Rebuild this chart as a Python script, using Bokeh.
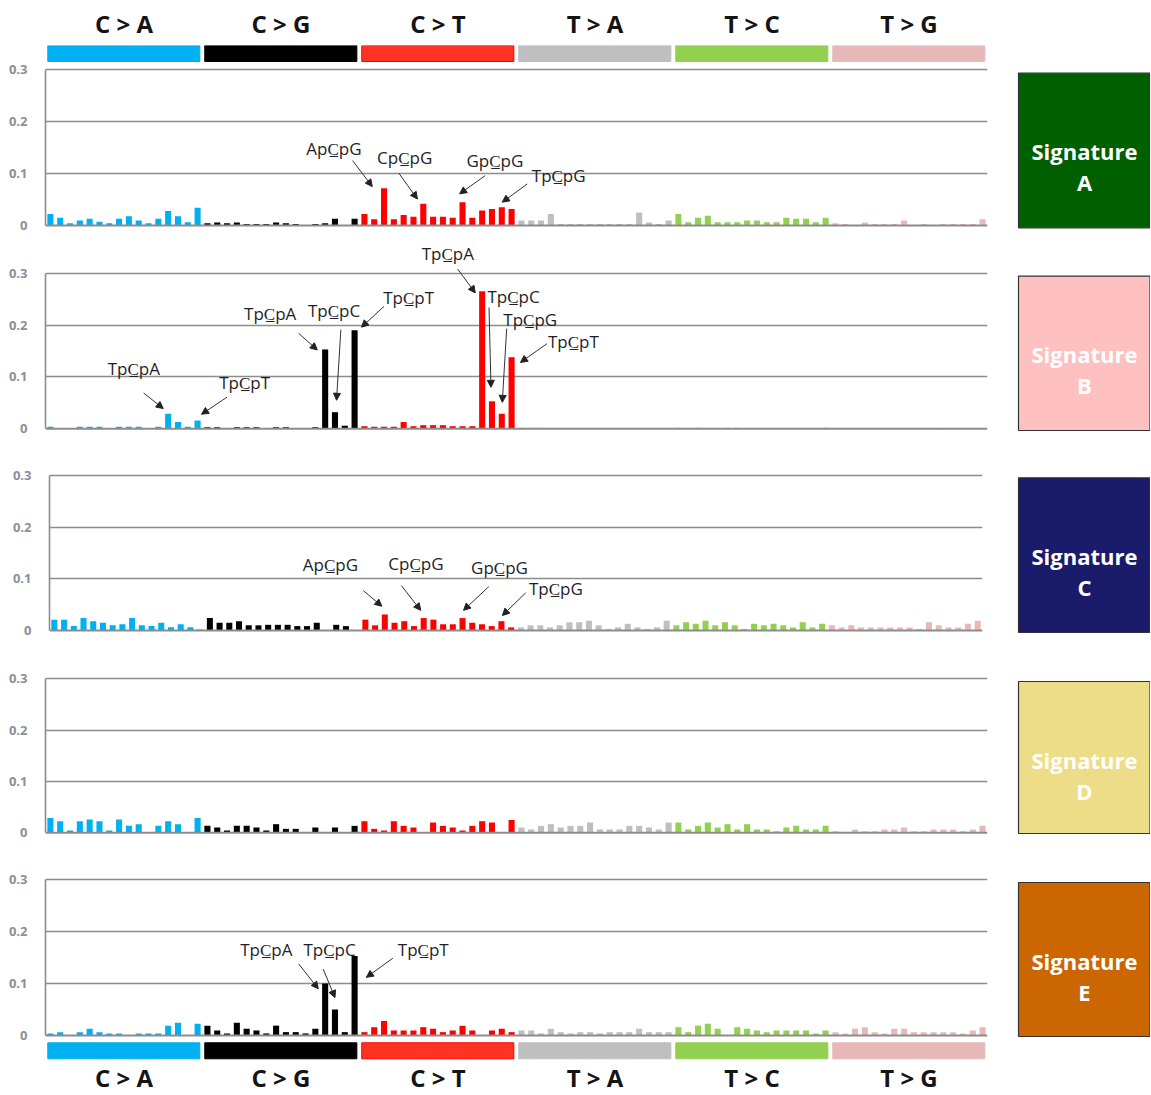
from bokeh.plotting import figure
from bokeh.layouts import column, row
from bokeh.models import Range1d, FixedTicker, Span, Arrow, NormalHead, ColumnDataSource
from bokeh.core.properties import value
from bokeh.embed import file_html
from bokeh.resources import INLINE

# ---------------- data ----------------
SUBS = ["C > A", "C > G", "C > T", "T > A", "T > C", "T > G"]
BAR_COLORS = ["#00B0F0", "#000000", "#FF0000", "#BFBFBF", "#92D050", "#E6B9B8"]
HEAD_FILL = ["#00B0F0", "#000000", "#FF3322", "#BFBFBF", "#92D050", "#E6B9B8"]
HEAD_LINE = ["#00B0F0", "#000000", "#FF0000", "#BFBFBF", "#92D050", "#E6B9B8"]

SIG_A = [
    0.022, 0.015, 0.0045, 0.0096, 0.013, 0.007, 0.0045, 0.013, 0.018, 0.0096, 0.0045, 0.013, 0.028, 0.018, 0.0064, 0.034,
    0.0045, 0.006, 0.0045, 0.006, 0.003, 0.003, 0.003, 0.006, 0.0045, 0.003, 0.0, 0.003, 0.0045, 0.013, 0.0, 0.013,
    0.022, 0.012, 0.072, 0.012, 0.020, 0.017, 0.042, 0.017, 0.017, 0.015, 0.045, 0.015, 0.029, 0.032, 0.035, 0.032,
    0.0096, 0.0096, 0.0096, 0.022, 0.003, 0.003, 0.003, 0.003, 0.003, 0.003, 0.003, 0.003, 0.025, 0.006, 0.003, 0.0096,
    0.022, 0.0064, 0.015, 0.019, 0.0064, 0.0064, 0.0064, 0.0096, 0.0096, 0.0064, 0.0064, 0.015, 0.013, 0.013, 0.0064, 0.015,
    0.0045, 0.003, 0.0, 0.006, 0.003, 0.003, 0.003, 0.0096, 0.0, 0.003, 0.0, 0.003, 0.003, 0.003, 0.003, 0.012,
]
SIG_B = [
    0.004, 0.0, 0.0, 0.004, 0.004, 0.004, 0.0, 0.004, 0.004, 0.004, 0.0, 0.004, 0.029, 0.013, 0.004, 0.016,
    0.003, 0.003, 0.0, 0.003, 0.003, 0.003, 0.0, 0.003, 0.003, 0.0, 0.0, 0.003, 0.153, 0.032, 0.006, 0.19,
    0.005, 0.004, 0.004, 0.004, 0.013, 0.005, 0.007, 0.007, 0.007, 0.005, 0.005, 0.005, 0.265, 0.053, 0.029, 0.138,
    0.002, 0.002, 0.002, 0.0, 0.0, 0.0, 0.0, 0.0, 0.0, 0.0, 0.0, 0.0, 0.0, 0.0, 0.0, 0.0,
    0.002, 0.0, 0.002, 0.0, 0.0, 0.002, 0.002, 0.0, 0.0, 0.0, 0.0, 0.0, 0.0, 0.0, 0.0, 0.002,
    0.0, 0.0, 0.0, 0.0, 0.0, 0.0, 0.0, 0.0, 0.0, 0.0, 0.002, 0.0, 0.0, 0.0, 0.0, 0.0,
]
SIG_C = [
    0.021, 0.021, 0.0085, 0.024, 0.018, 0.015, 0.010, 0.012, 0.024, 0.010, 0.0085, 0.015, 0.0065, 0.012, 0.0065, 0.002,
    0.024, 0.015, 0.015, 0.018, 0.010, 0.010, 0.011, 0.011, 0.011, 0.0085, 0.0085, 0.015, 0.0, 0.011, 0.0085, 0.0,
    0.021, 0.010, 0.031, 0.015, 0.018, 0.0085, 0.024, 0.021, 0.012, 0.012, 0.024, 0.015, 0.012, 0.0085, 0.018, 0.006,
    0.006, 0.010, 0.010, 0.006, 0.010, 0.016, 0.016, 0.019, 0.010, 0.003, 0.006, 0.013, 0.006, 0.003, 0.006, 0.019,
    0.010, 0.016, 0.013, 0.019, 0.010, 0.016, 0.010, 0.003, 0.013, 0.010, 0.013, 0.010, 0.006, 0.016, 0.006, 0.013,
    0.010, 0.006, 0.010, 0.006, 0.006, 0.006, 0.006, 0.006, 0.006, 0.003, 0.016, 0.010, 0.006, 0.006, 0.013, 0.019,
]
SIG_D = [
    0.029, 0.0226, 0.0045, 0.0226, 0.026, 0.0226, 0.0045, 0.026, 0.0135, 0.0168, 0.0, 0.0135, 0.0226, 0.0168, 0.0, 0.029,
    0.0135, 0.0103, 0.0045, 0.0135, 0.0135, 0.0103, 0.0045, 0.0168, 0.0077, 0.0077, 0.0, 0.0103, 0.0, 0.0103, 0.0, 0.0135,
    0.0226, 0.0077, 0.0045, 0.0226, 0.0135, 0.0103, 0.0, 0.020, 0.0135, 0.0103, 0.0045, 0.0135, 0.0226, 0.020, 0.0, 0.025,
    0.0103, 0.0065, 0.0135, 0.0168, 0.0103, 0.0135, 0.0135, 0.020, 0.0065, 0.0065, 0.0065, 0.0135, 0.0135, 0.0103, 0.0065, 0.020,
    0.020, 0.0065, 0.0135, 0.020, 0.0103, 0.0168, 0.0065, 0.0168, 0.0065, 0.0065, 0.0032, 0.0103, 0.0135, 0.0065, 0.0065, 0.0135,
    0.003, 0.0, 0.0065, 0.003, 0.003, 0.0065, 0.0065, 0.0103, 0.003, 0.003, 0.0065, 0.0065, 0.0065, 0.003, 0.0065, 0.0135,
]
SIG_E = [
    0.004, 0.0065, 0.0, 0.0065, 0.013, 0.0065, 0.004, 0.004, 0.0, 0.004, 0.004, 0.004, 0.0187, 0.0245, 0.0, 0.0226,
    0.019, 0.0097, 0.004, 0.0245, 0.013, 0.0097, 0.004, 0.019, 0.0065, 0.0065, 0.004, 0.013, 0.100, 0.050, 0.0065, 0.153,
    0.0065, 0.016, 0.028, 0.0097, 0.0097, 0.0097, 0.016, 0.013, 0.0065, 0.0097, 0.0187, 0.0097, 0.0, 0.0097, 0.013, 0.0065,
    0.0097, 0.0097, 0.004, 0.013, 0.0065, 0.004, 0.0065, 0.0065, 0.004, 0.0065, 0.0065, 0.0065, 0.013, 0.0065, 0.0065, 0.0065,
    0.016, 0.0065, 0.019, 0.0226, 0.013, 0.0, 0.016, 0.013, 0.0097, 0.0065, 0.0097, 0.0097, 0.0097, 0.0097, 0.004, 0.0097,
    0.0065, 0.004, 0.013, 0.016, 0.0065, 0.004, 0.013, 0.013, 0.0065, 0.0065, 0.0065, 0.0065, 0.0065, 0.004, 0.0097, 0.016,
]
SIGNATURES = [SIG_A, SIG_B, SIG_C, SIG_D, SIG_E]
SIG_LETTERS = ["A", "B", "C", "D", "E"]
SIG_BOX_COLORS = ["#006000", "#FFC0C0", "#1B1B6B", "#EEDD88", "#CC6600"]
YTICKS = [0, 0.1, 0.2, 0.3]

# annotations: (5' base, 3' base, label x, label y, arrow x0, y0, x1, y1) in data units
ANN = [
    [("A", "G", 28.9, 0.148, 30.8, 0.125, 32.8, 0.075),
     ("C", "G", 36.1, 0.131, 35.5, 0.101, 37.4, 0.051),
     ("G", "G", 45.3, 0.125, 44.3, 0.096, 41.7, 0.061),
     ("T", "G", 51.8, 0.096, 48.6, 0.080, 46.05, 0.045)],
    [("T", "A", 8.5, 0.116, 9.5, 0.069, 11.5, 0.039),
     ("T", "T", 19.8, 0.089, 18.0, 0.061, 15.4, 0.028),
     ("T", "A", 22.4, 0.222, 25.3, 0.184, 27.2, 0.152),
     ("T", "C", 28.9, 0.228, 29.6, 0.191, 29.16, 0.055),
     ("T", "T", 36.5, 0.253, 34.0, 0.236, 31.7, 0.196),
     ("T", "A", 40.5, 0.338, 41.5, 0.308, 43.3, 0.262),
     ("T", "C", 47.2, 0.255, 44.7, 0.234, 44.9, 0.080),
     ("T", "G", 48.9, 0.211, 46.5, 0.193, 46.05, 0.051),
     ("T", "T", 53.3, 0.168, 50.6, 0.164, 47.9, 0.128)],
    [("A", "G", 28.4, 0.128, 31.8, 0.077, 33.7, 0.047),
     ("C", "G", 37.2, 0.130, 35.7, 0.087, 37.7, 0.039),
     ("G", "G", 45.8, 0.122, 44.7, 0.085, 42.1, 0.039),
     ("T", "G", 51.6, 0.081, 48.5, 0.073, 46.1, 0.029)],
    [],
    [("T", "A", 22.0, 0.166, 25.3, 0.138, 27.3, 0.090),
     ("T", "C", 28.45, 0.166, 27.8, 0.128, 29.0, 0.073),
     ("T", "T", 38.0, 0.166, 34.9, 0.149, 32.2, 0.112)],
]

# ---------------- layout constants (page pixels) ----------------
FONT = "Open Sans"
PANEL_W = 1000
BOX_W = 150
TOP_H = 45
BOT_H = 34
TOP_BAR = (45, 61)          # page y of the top category strip (drawn inside panel A)
BOT_BAR = (1042.3, 1058.3)  # page y of the bottom category strip (drawn inside panel E)
# (band top, band bottom, 0.3 line, 0 line, frame left, frame right, box top, box bottom)
BANDS = [
    (45, 237, 69.3, 225.0, 45.0, 986.7, 72.7, 227.3),
    (237, 440, 272.7, 428.3, 45.0, 986.7, 275.7, 430.0),
    (440, 642, 475.0, 630.0, 49.3, 981.7, 477.3, 632.0),
    (642, 844, 678.3, 832.3, 45.0, 986.7, 681.0, 833.0),
    (844, 1060, 879.3, 1035.0, 45.0, 986.7, 882.0, 1036.0),
]
GRID = "#8C8C8C"
XR = (-0.5, 95.5)


def ctx(l, r):
    return l + "pC\u0332p" + r


def strip_source():
    return ColumnDataSource(dict(
        left=[g * 16 - 0.27 for g in range(6)], right=[g * 16 + 15.23 for g in range(6)],
        fill=HEAD_FILL, line=HEAD_LINE, cx=[g * 16 + 7.5 for g in range(6)], lab=SUBS))


def bare(width, height, yr, mbl=0, mbr=0):
    f = figure(width=width, height=height, x_range=Range1d(*XR) if mbl else Range1d(0, width),
               y_range=Range1d(*yr), x_axis_type=None, y_axis_type=None,
               toolbar_location=None, output_backend="svg",
               min_border_left=mbl, min_border_right=mbr, min_border_top=0, min_border_bottom=0,
               outline_line_color=None)
    f.xgrid.visible = False
    f.ygrid.visible = False
    return f


def add_labels(fig, label_y):
    fig.text(x="cx", y=label_y, text="lab", source=strip_source(), text_font=value(FONT),
             text_font_size="24px", text_font_style="bold", text_color="#141414",
             text_align="center", text_baseline="middle")


def add_strip(fig, top, bottom):
    fig.quad(left="left", right="right", top=top, bottom=bottom, source=strip_source(),
             fill_color="fill", line_color="line", line_width=1)


def panel(i):
    T, B, t, b, fl, fr, bt, bb = BANDS[i]
    sig = SIGNATURES[i]
    mbl = round(fl)
    mbr = round(PANEL_W - fr)
    ppu = (b - t) / 0.3
    ymax = (b - T) / ppu
    ymin = -(B - b) / ppu
    p = figure(width=PANEL_W, height=B - T, x_range=Range1d(*XR), y_range=Range1d(ymin, ymax),
               x_axis_type=None, toolbar_location=None, output_backend="svg",
               min_border_left=mbl, min_border_right=mbr, min_border_top=0,
               min_border_bottom=0, outline_line_color=None)
    p.xgrid.visible = False
    p.ygrid.ticker = FixedTicker(ticks=[0.1, 0.2, 0.3])
    p.ygrid.grid_line_color = GRID
    p.ygrid.grid_line_width = 1.6
    ax = p.yaxis[0]
    ax.ticker = FixedTicker(ticks=YTICKS)
    ax.bounds = (0, 0.3)
    ax.major_label_overrides = {0: "0", 0.1: "0.1", 0.2: "0.2", 0.3: "0.3"}
    ax.axis_line_color = GRID
    ax.axis_line_width = 1.6
    ax.major_tick_line_color = None
    ax.minor_tick_line_color = None
    ax.major_label_standoff = 12
    ax.major_label_text_font = FONT
    ax.major_label_text_font_size = "13px"
    ax.major_label_text_font_style = "bold"
    ax.major_label_text_color = "#8A8F98"
    p.add_layout(Span(location=0, dimension="width", line_color=GRID, line_width=2))

    if i == 0:
        add_strip(p, (b - TOP_BAR[0]) / ppu, (b - TOP_BAR[1]) / ppu)
    if i == 4:
        add_strip(p, (b - BOT_BAR[0]) / ppu, (b - BOT_BAR[1]) / ppu)

    src = ColumnDataSource(dict(x=list(range(96)), top=sig,
                                color=[BAR_COLORS[k // 16] for k in range(96)]))
    p.vbar(x="x", top="top", bottom=0, width=0.62, source=src, fill_color="color",
           line_color=None)

    anns = ANN[i]
    if anns:
        p.text(x=[a[2] for a in anns], y=[a[3] for a in anns],
               text=[ctx(a[0], a[1]) for a in anns], text_font=value(FONT),
               text_font_size="17px", text_color="#1E1E28", text_align="center",
               text_baseline="middle")
        for a in anns:
            p.add_layout(Arrow(end=NormalHead(size=7, fill_color="#222222", line_color="#222222",
                                              line_width=1),
                               x_start=a[4], y_start=a[5], x_end=a[6], y_end=a[7],
                               line_color="#333333", line_width=1))

    # signature box
    h = B - T
    bx = bare(BOX_W, h, (h, 0))
    top = bt - T
    bot = bb - T
    bx.quad(left=[18], right=[149.5], top=[top], bottom=[bot],
            fill_color=SIG_BOX_COLORS[i], line_color="#333333", line_width=1.2)
    bx.text(x=[84, 84], y=[top + 78, top + 109], text=["Signature", SIG_LETTERS[i]],
            text_font=value(FONT), text_font_size="22px", text_font_style="bold",
            text_color="#FFFFFF", text_align="center", text_baseline="middle")
    return row(p, bx)


top_header = bare(PANEL_W, TOP_H, (TOP_H, 0), mbl=45, mbr=13)
add_labels(top_header, 22.5)

bottom_header = bare(PANEL_W, BOT_H, (BOT_H, 0), mbl=45, mbr=13)
add_labels(bottom_header, 17)

layout = column(top_header, *[panel(i) for i in range(5)], bottom_header)

open("out.html", "w").write(file_html(layout, INLINE))
